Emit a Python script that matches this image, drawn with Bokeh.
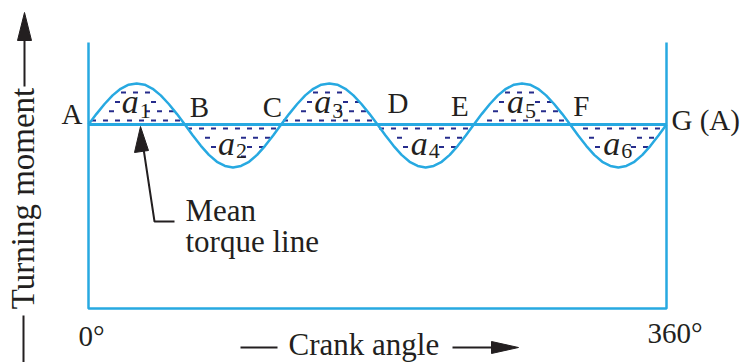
import math
import numpy as np
from bokeh.plotting import figure
from bokeh.models import Range1d
from bokeh.core.properties import value
from bokeh.embed import file_html
from bokeh.resources import INLINE

# ---------------- data ----------------
crank_angle = list(range(0, 361, 5))          # degrees, sampling grid
turning_moment = [                            # relative to the mean torque
    0.00, 0.26, 0.50, 0.71, 0.87, 0.97, 1.00, 0.97, 0.87, 0.71, 0.50, 0.26,
    0.00, -0.27, -0.52, -0.74, -0.91, -1.01, -1.05, -1.01, -0.91, -0.74, -0.52, -0.27,
    0.00, 0.26, 0.50, 0.71, 0.87, 0.97, 1.00, 0.97, 0.87, 0.71, 0.50, 0.26,
    0.00, -0.27, -0.52, -0.74, -0.91, -1.01, -1.05, -1.01, -0.91, -0.74, -0.52, -0.27,
    0.00, 0.26, 0.50, 0.71, 0.87, 0.97, 1.00, 0.97, 0.87, 0.71, 0.50, 0.26,
    0.00, -0.27, -0.52, -0.74, -0.91, -1.01, -1.05, -1.01, -0.91, -0.74, -0.52, -0.27,
    0.00,
]
mean_torque = 0.0
point_labels = ["A", "B", "C", "D", "E", "F", "G (A)"]
point_angles = [0, 60, 120, 180, 240, 300, 360]
area_numbers = ["1", "2", "3", "4", "5", "6"]
area_angles = [30, 90, 150, 210, 270, 330]
area_sign = [1, -1, 1, -1, 1, -1]
x_tick_labels = ["0\u00b0", "360\u00b0"]
x_tick_angles = [0, 360]
x_title = "Crank angle"
y_title = "Turning moment"
note_lines = ["Mean", "torque line"]

# ---------------- layout helpers (image pixels -> data) ----------------
W, H = 744, 362
PX0, PX360, PY_MEAN, PX_UNIT = 88.0, 666.0, 124.0, 41.0
DEG_PER_PX = 360.0 / (PX360 - PX0)
BASE_FIX = 0.33   # em fraction: renderer draws "alphabetic" text a bit low


def X(px):
    return (px - PX0) * DEG_PER_PX


def Y(py):
    return (PY_MEAN - py) / PX_UNIT


def YB(baseline_px, size):
    return Y(baseline_px - BASE_FIX * size)


BLUE = "#27a9e1"
HATCH = "#262c8c"
INK = "#231f20"
SERIF = value("Liberation Serif")

p = figure(width=W, height=H,
           x_range=Range1d(X(0), X(W)), y_range=Range1d(Y(H), Y(0)),
           output_backend="svg", toolbar_location=None, min_border=0,
           x_axis_location=None, y_axis_location=None,
           outline_line_color=None, background_fill_color="white",
           border_fill_color="white")
p.xgrid.grid_line_color = None
p.ygrid.grid_line_color = None

# stipple texture (short dashes) inside the areas between curve and mean line,
# leaving a small gap around the area labels
ang = np.asarray(crank_angle, float)
tm = np.asarray(turning_moment, float)
label_px = [PX0 + a / DEG_PER_PX for a in area_angles]
sx, sy = [], []
for k in range(5):
    off = 4 + 9.3 * k                    # px away from the mean line
    start = PX0 + 5 + (6 if k % 2 else 0)
    for xp in np.arange(start, PX360 - 2, 12):
        v = np.interp(X(xp), ang, tm) * PX_UNIT
        if abs(v) <= off + 1.5:
            continue
        near = False
        for c, s in zip(label_px, area_sign):
            lo, hi = (10, 31) if s > 0 else (10, 37)
            if s * v > 0 and c - 16 <= xp <= c + 10 and lo <= off <= hi:
                near = True
        if near:
            continue
        sx.append(X(xp))
        sy.append(Y(PY_MEAN - math.copysign(off, v)))
p.dash(sx, sy, size=5, line_color=HATCH, line_width=2)

# frame (open at top)
frame_top, frame_bottom = Y(42), Y(308)
p.line([crank_angle[0], crank_angle[0], crank_angle[-1], crank_angle[-1]],
       [frame_top, frame_bottom, frame_bottom, frame_top],
       line_color=BLUE, line_width=2.5)
# mean torque line
p.line([crank_angle[0], crank_angle[-1]], [mean_torque, mean_torque],
       line_color=BLUE, line_width=3)
# turning moment curve
p.line(crank_angle, turning_moment, line_color=BLUE, line_width=2.5)

# point labels A..G
LBL = 29
pt_layout = {  # dx px, baseline px, align
    "A": (-6, 123, "right"), "B": (5, 116, "left"), "C": (1, 116, "right"),
    "D": (10, 112, "left"), "E": (-5, 115, "right"), "F": (3, 115, "left"),
    "G (A)": (5, 129, "left"),
}
for name, a in zip(point_labels, point_angles):
    dxp, by, al = pt_layout[name]
    p.text(x=[a + dxp * DEG_PER_PX], y=[YB(by, LBL)], text=[name],
           text_font=SERIF, text_font_size=f"{LBL}px", text_color=INK,
           text_align=al, text_baseline="alphabetic")

# area labels a1..a6
AS, NS = 34, 22
for num, a, s in zip(area_numbers, area_angles, area_sign):
    base_a = PY_MEAN - 12 if s > 0 else PY_MEAN + 30
    base_n = PY_MEAN - 6 if s > 0 else PY_MEAN + 34
    p.text(x=[a + 2 * DEG_PER_PX], y=[YB(base_a, AS)], text=["a"],
           text_font=SERIF, text_font_style="italic", text_font_size=f"{AS}px",
           text_color=INK, text_align="right", text_baseline="alphabetic")
    p.text(x=[a + 3 * DEG_PER_PX], y=[YB(base_n, NS)], text=[num],
           text_font=SERIF, text_font_size=f"{NS}px",
           text_color=INK, text_align="left", text_baseline="alphabetic")

# x tick labels
tick_layout = {0: (-10, 345, "left"), 360: (-19, 342, "left")}
for lab, a in zip(x_tick_labels, x_tick_angles):
    dxp, by, al = tick_layout[a]
    p.text(x=[a + dxp * DEG_PER_PX], y=[YB(by, LBL)], text=[lab],
           text_font=SERIF, text_font_size=f"{LBL}px", text_color=INK,
           text_align=al, text_baseline="alphabetic")

# axis titles
TS = 31
p.text(x=[X(288)], y=[YB(354, TS)], text=[x_title], text_font=SERIF,
       text_font_size=f"{TS}px", text_color=INK, text_align="left",
       text_baseline="alphabetic")
p.text(x=[X(22)], y=[Y(198)], text=[y_title], angle=math.pi / 2,
       text_font=SERIF, text_font_size="33px", text_color=INK,
       text_align="center", text_baseline="middle")

# note "Mean torque line"
p.text(x=[X(185)] * 2, y=[YB(220, TS), YB(251, TS)], text=note_lines,
       text_font=SERIF, text_font_size=f"{TS}px", text_color=INK,
       text_align="left", text_baseline="alphabetic")

# arrows and leader lines
p.multi_line(
    xs=[[X(24), X(24)], [X(23), X(23)], [X(240), X(277)], [X(452), X(496)],
        [X(143), X(154), X(174)]],
    ys=[[Y(86), Y(36)], [Y(315), Y(362)], [Y(347), Y(347)], [Y(347), Y(347)],
        [Y(148), Y(221), Y(221)]],
    line_color=INK, line_width=2)
heads_x = [[X(24), X(17), X(31)], [X(518), X(491), X(491)],
           [X(140), X(134), X(148)]]
heads_y = [[Y(12), Y(40), Y(40)], [Y(347), Y(341), Y(353)],
           [Y(126), Y(152), Y(150)]]
p.patches(heads_x, heads_y, fill_color=INK, line_color=INK, line_width=1)

open("out.html", "w").write(file_html(p, INLINE))
